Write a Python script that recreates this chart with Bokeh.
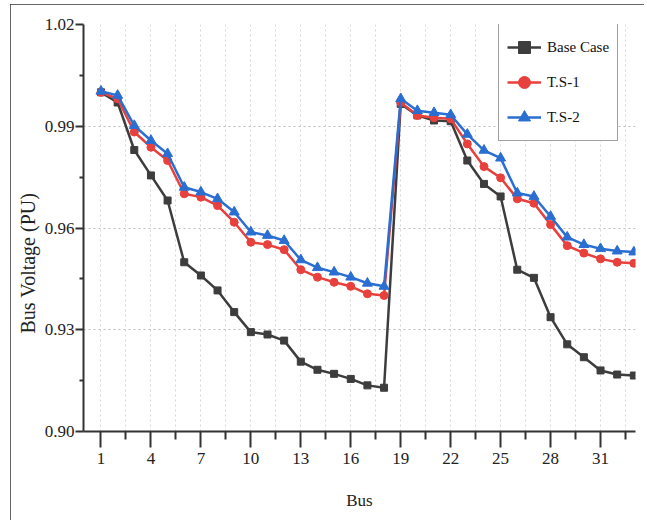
from bokeh.plotting import figure
from bokeh.models import Range1d, FixedTicker, PrintfTickFormatter, Title
from bokeh.embed import file_html
from bokeh.resources import INLINE

buses = list(range(1, 34))
base_case = [1.0000, 0.9970, 0.9830, 0.9755, 0.9681, 0.9499, 0.9460, 0.9416, 0.9352,
             0.9293, 0.9286, 0.9268, 0.9206, 0.9182, 0.9170, 0.9155, 0.9136, 0.9129,
             0.9966, 0.9932, 0.9917, 0.9915, 0.9799, 0.9730, 0.9693, 0.9477, 0.9453,
             0.9337, 0.9257, 0.9219, 0.9180, 0.9168, 0.9165]
ts1 = [1.0000, 0.9981, 0.9883, 0.9838, 0.9799, 0.9701, 0.9691, 0.9666, 0.9617,
       0.9558, 0.9551, 0.9536, 0.9477, 0.9455, 0.9440, 0.9428, 0.9406, 0.9401,
       0.9970, 0.9932, 0.9925, 0.9922, 0.9848, 0.9781, 0.9748, 0.9686, 0.9673,
       0.9610, 0.9548, 0.9526, 0.9509, 0.9499, 0.9496]
ts2 = [1.0003, 0.9991, 0.9902, 0.9858, 0.9819, 0.9720, 0.9706, 0.9686, 0.9647,
       0.9588, 0.9578, 0.9563, 0.9506, 0.9483, 0.9470, 0.9455, 0.9437, 0.9428,
       0.9981, 0.9946, 0.9940, 0.9934, 0.9876, 0.9829, 0.9806, 0.9703, 0.9693,
       0.9634, 0.9573, 0.9551, 0.9539, 0.9532, 0.9529]

x_major = [1, 4, 7, 10, 13, 16, 19, 22, 25, 28, 31]
x_minor = [2.5, 5.5, 8.5, 11.5, 14.5, 17.5, 20.5, 23.5, 26.5, 29.5, 32.5]
y_major = [0.90, 0.93, 0.96, 0.99, 1.02]
y_minor = [0.915, 0.945, 0.975, 1.005]
x_title = "Bus"
y_title = "Bus Voltage (PU)"

FONT = "Liberation Serif"

p = figure(width=634, height=516, output_backend="svg", toolbar_location=None,
           x_range=Range1d(-0.05, 33.1), y_range=Range1d(0.90, 1.02),
           min_border_left=73, min_border_right=9, min_border_top=20, min_border_bottom=89,
           x_axis_label=x_title)
p.outline_line_color = None
p.background_fill_color = "white"
p.border_fill_color = "white"
p.styles = {"margin-left": "10px", "margin-top": "4px",
            "outline": "1px solid #333333", "outline-offset": "-1px"}

# axes
for ax in (p.xaxis[0], p.yaxis[0]):
    ax.axis_line_color = "#333333"
    ax.axis_line_width = 2
    ax.major_tick_line_color = "#333333"
    ax.major_tick_line_width = 2
    ax.minor_tick_line_color = "#333333"
    ax.minor_tick_line_width = 2
    ax.major_tick_in = 0
    ax.minor_tick_in = 0
    ax.major_label_text_font = FONT
    ax.major_label_text_color = "#222222"
    ax.axis_label_text_font = FONT
    ax.axis_label_text_font_style = "normal"
    ax.axis_label_text_color = "#222222"

xa = p.xaxis[0]
xa.ticker = FixedTicker(ticks=x_major, minor_ticks=x_minor)
xa.major_tick_out = 16
xa.minor_tick_out = 8
xa.major_label_text_font_size = "17px"
xa.major_label_standoff = 5
xa.axis_label_text_font_size = "17px"
xa.axis_label_standoff = 24

ya = p.yaxis[0]
ya.ticker = FixedTicker(ticks=y_major, minor_ticks=y_minor)
ya.formatter = PrintfTickFormatter(format="%.2f")
ya.major_tick_out = 8
ya.minor_tick_out = 4
ya.major_label_text_font_size = "17px"
ya.major_label_standoff = 1

# y axis title, placed lower than the centre as in the original
p.add_layout(Title(text=y_title, align="left", offset=98, standoff=6,
                   text_font=FONT, text_font_size="20px", text_font_style="normal",
                   text_color="#222222"), "left")

# grids
p.xgrid.ticker = FixedTicker(ticks=sorted(x_major + x_minor))
p.ygrid.ticker = FixedTicker(ticks=[0.93, 0.96, 0.99])
for g in (p.xgrid[0], p.ygrid[0]):
    g.grid_line_color = "#bdbdbd"
    g.grid_line_dash = "2 3"
    g.grid_line_width = 1
p.xgrid[0].grid_line_color = "#d6d6d6"

series = [
    (base_case, "Base Case", "#3d3d3d", "square", 7),
    (ts1, "T.S-1", "#e8403c", "circle", 8),
    (ts2, "T.S-2", "#2a6ed2", "triangle", 10),
]
for vals, name, color, marker, size in series:
    p.line(buses, vals, line_color=color, line_width=2.5, legend_label=name)
    p.scatter(buses, vals, marker=marker, size=size, fill_color=color,
              line_color=color, legend_label=name)

lg = p.legend[0]
lg.location = (415, 290)
lg.margin = 0
lg.padding = 8
lg.spacing = 5
lg.label_height = 30
lg.glyph_height = 30
lg.glyph_width = 34
lg.label_standoff = 6
lg.label_text_font = FONT
lg.label_text_font_size = "15px"
lg.label_text_color = "#111111"
lg.border_line_color = "#444444"
lg.border_line_width = 1.5
lg.background_fill_color = "white"
lg.background_fill_alpha = 1.0

open("out.html", "w").write(file_html(p, INLINE))
